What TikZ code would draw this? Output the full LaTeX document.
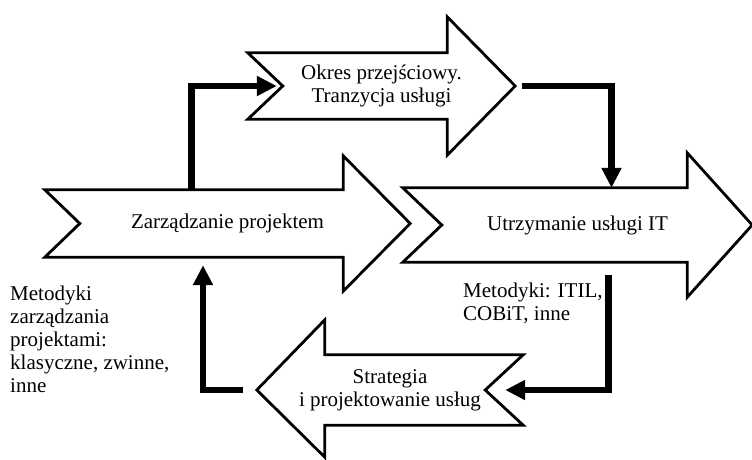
\documentclass[tikz,border=0pt]{standalone}
\usepackage{fontspec}
\setmainfont{Liberation Serif}
\usetikzlibrary{arrows.meta}

\begin{document}
\begin{tikzpicture}[
  x=1pt, y=-1pt,
  txt/.style={font=\fontsize{21}{23}\selectfont, inner sep=0pt},
  body/.style={txt, align=center},
  note/.style={txt, align=left, anchor=north west},
  outline/.style={line width=2.8pt, black},
  flow/.style={line width=6.5pt, black, -{Triangle[length=20pt, width=19pt]}}
]
  \useasboundingbox (0,0) rectangle (752,459);

  %% ── Big arrows: text nodes span the whole arrow, body height ─────────────
  \node[body, minimum width=365pt, minimum height=67pt] (proj)  at (227.5,223.5) {Zarządzanie projektem};
  \node[body, minimum width=267pt, minimum height=66pt] (trans) at (381.5,86)    {Okres przejściowy.\\Tranzycja usługi};
  \node[body, minimum width=349pt, minimum height=74pt] (oper)  at (577.5,225)   {Utrzymanie usługi IT};
  \node[body, minimum width=266pt, minimum height=70pt] (strat) at (390,390)     {Strategia\\i projektowanie usług};

  %% ── Side notes ─────────────────────────────────────────────────────────────
  \node[note] (pmnote) at (10,286) {Metodyki\\zarządzania\\projektami:\\klasyczne, zwinne,\\inne};
  \node[note] (itnote) at (463,283) {Metodyki: ITIL,\\COBiT, inne};

  %% ── Outlines (head ~67pt long, ~35pt overhang, tail notch ~37pt) ──────────
  % Zarządzanie projektem → right
  \draw[outline] (proj.north west) -- ([xshift=-67pt]proj.north east)
    -- ([xshift=-67pt, yshift=34pt]proj.north east) -- (proj.east)
    -- ([xshift=-67pt, yshift=-34pt]proj.south east) -- ([xshift=-67pt]proj.south east)
    -- (proj.south west) -- ([xshift=35pt]proj.west) -- cycle;
  % Okres przejściowy → right
  \draw[outline] (trans.north west) -- ([xshift=-68pt]trans.north east)
    -- ([xshift=-68pt, yshift=36pt]trans.north east) -- (trans.east)
    -- ([xshift=-68pt, yshift=-36pt]trans.south east) -- ([xshift=-68pt]trans.south east)
    -- (trans.south west) -- ([xshift=35pt]trans.west) -- cycle;
  % Utrzymanie usługi IT → right
  \draw[outline] (oper.north west) -- ([xshift=-65pt]oper.north east)
    -- ([xshift=-65pt, yshift=35pt]oper.north east) -- (oper.east)
    -- ([xshift=-65pt, yshift=-35pt]oper.south east) -- ([xshift=-65pt]oper.south east)
    -- (oper.south west) -- ([xshift=39pt]oper.west) -- cycle;
  % Strategia → left
  \draw[outline] (strat.north east) -- ([xshift=68pt]strat.north west)
    -- ([xshift=68pt, yshift=35pt]strat.north west) -- (strat.west)
    -- ([xshift=68pt, yshift=-32pt]strat.south west) -- ([xshift=68pt]strat.south west)
    -- (strat.south east) -- ([xshift=-38pt]strat.east) -- cycle;

  %% ── Flow connectors ───────────────────────────────────────────────────────
  % Zarządzanie projektem → Okres przejściowy
  \draw[flow] ([xshift=-36pt]proj.north) |- ([xshift=29pt]trans.west);
  % Okres przejściowy → Utrzymanie usługi IT
  \draw[flow] ([xshift=7pt]trans.east) -| ([xshift=34pt]oper.north);
  % Utrzymanie usługi IT → Strategia
  \draw[flow] ([xshift=31pt, yshift=-13pt]oper.south) |- ([xshift=-18pt]strat.east);
  % Strategia → Zarządzanie projektem
  \draw[flow] ([xshift=-14pt]strat.west) -| ([xshift=-24.5pt, yshift=-8pt]proj.south);
\end{tikzpicture}
\end{document}
